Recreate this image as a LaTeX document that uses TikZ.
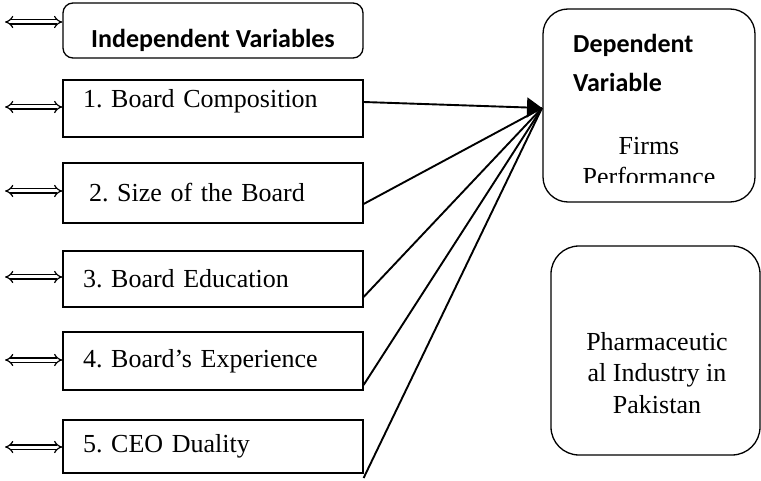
\documentclass[tikz,border=0pt]{standalone}
\usepackage{fontspec}
\setmainfont{Liberation Serif}
\newfontfamily\headfont{Carlito}
\usetikzlibrary{arrows.meta}
\frenchspacing

\begin{document}
\begin{tikzpicture}[
    x=1pt, y=-1pt,
    item/.style={rectangle, draw=black, line width=1.2pt, minimum width=300pt, text width=260pt, inner xsep=20pt, inner ysep=0pt, align=left, font=\fontsize{26}{31}\selectfont},
    roundbox/.style={rectangle, draw=black, line width=1.3pt, rounded corners=22pt},
    head/.style={font=\headfont\bfseries\fontsize{26}{39}\selectfont, align=left, inner sep=0pt},
    body/.style={font=\fontsize{26}{31.5}\selectfont, align=center, inner sep=0pt},
    link/.style={line width=1.9pt, draw=black},
    arrow/.style={link, -{Triangle[length=15pt, width=20pt]}},
    twoway/.style={double, double distance=3pt, line width=1.2pt, {Implies[scale=1.3]}-{Implies[scale=1.3]}}
]
\useasboundingbox (0,0) rectangle (761,481);

% Left column: independent variables
\node[roundbox, rounded corners=10pt, minimum width=300pt, minimum height=55pt] (indep) at (213,30.5) {};
\node[head, anchor=base] (indep_txt) at (213,48) {Independent Variables};
\node[item, minimum height=57pt, text depth=21pt] (comp) at (213,108.5) {1. Board Composition};
\node[item, minimum height=60pt, inner xsep=26pt, text width=248pt] (size) at (213,193) {2. Size of the Board};
\node[item, minimum height=56pt] (edu) at (213,279) {3. Board Education};
\node[item, minimum height=58pt] (exper) at (213,361) {4. Board’s Experience};
\node[item, minimum height=53pt] (dual) at (213,446.5) {5. CEO Duality};

% Right column: dependent variable and context
\node[roundbox, rounded corners=25pt, minimum width=212pt, minimum height=193pt] (dep) at (649,105.5) {};
\node[head, anchor=base west] (dep_txt) at (573,92) {Dependent\\Variable};
\begin{scope}
  \clip (545,11) rectangle (753,183);
  \node[body, anchor=base] (perf_txt) at (649,186) {Firms\\Performance};
\end{scope}
\node[roundbox, rounded corners=28pt, minimum width=209pt, minimum height=209pt] (pharma) at (655.5,350.5) {};
\node[body, anchor=base] (pharma_txt) at (657,413) {Pharmaceutic\\al Industry in\\Pakistan};

% Double arrows on the left
\coordinate (l_indep) at (5,22);
\coordinate (l_comp) at (5,107);
\coordinate (l_size) at (5,191);
\coordinate (l_edu) at (5,277);
\coordinate (l_exper) at (5,360);
\coordinate (l_dual) at (5,447);
\draw[twoway] (l_indep) -- (indep.west |- l_indep);
\draw[twoway] (l_comp) -- (comp.west |- l_comp);
\draw[twoway] (l_size) -- (size.west |- l_size);
\draw[twoway] (l_edu) -- (edu.west |- l_edu);
\draw[twoway] (l_exper) -- (exper.west |- l_exper);
\draw[twoway] (l_dual) -- (dual.west |- l_dual);

% Connectors
\coordinate (hub) at (542,108);
\draw[link] ([yshift=-11pt]size.east) -- (hub);
\draw[link] ([yshift=-18pt]edu.east) -- (hub);
\draw[link] ([yshift=-24pt]exper.east) -- (hub);
\draw[link] ([yshift=-31.5pt]dual.east) -- (hub);
\draw[arrow] ([yshift=6.5pt]comp.east) -- (hub);

\end{tikzpicture}
\end{document}
